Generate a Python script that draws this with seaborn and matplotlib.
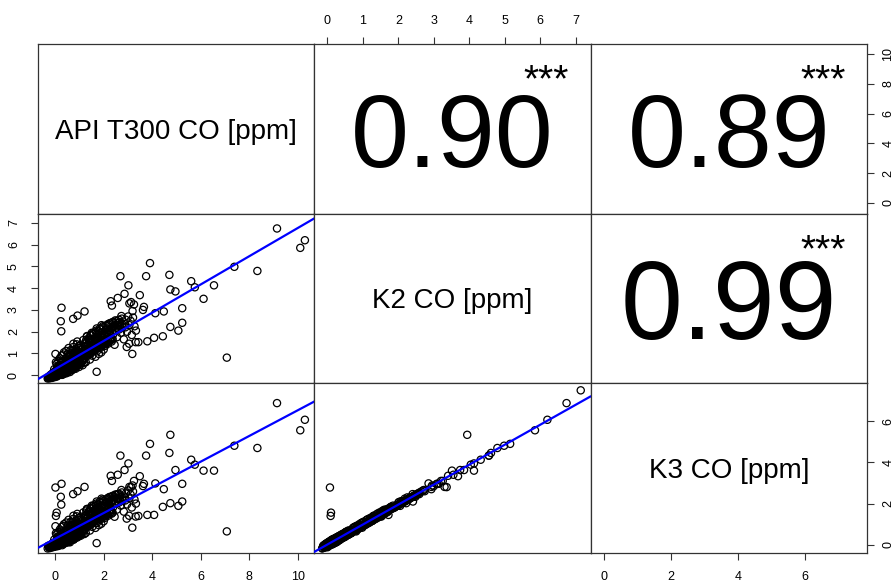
import matplotlib
matplotlib.use("Agg")
import numpy as np
import pandas as pd
import matplotlib.pyplot as plt
import seaborn as sns

# variables shown on the diagonal
var_names = ["API", "K2", "K3"]
var_labels = ["API T300 CO [ppm]", "K2 CO [ppm]", "K3 CO [ppm]"]

# correlation text for the upper panels (row, col, text, size, baseline)
corr_cells = [(0, 1, "0.90", 75, 0.277), (0, 2, "0.89", 75, 0.277), (1, 2, "0.99", 80, 0.26)]
corr_stars = "***"

# sparse / outlying observations (API, K2, K3)
api_out = [9.14, 10.10, 10.29, 7.38, 8.33, 7.07, 6.54, 6.11, 5.60, 5.75,
           5.23, 5.23, 5.07, 4.74, 4.70, 4.74, 4.95, 3.90, 3.74, 4.47,
           4.43, 4.07, 3.79, 4.12, 3.65, 3.48, 2.68, 3.01, 2.85, 2.57,
           3.17, 3.31, 3.42, 0.25, 0.22, 0.73, 0.91, 1.20, 0.24, 1.70,
           0.00, 3.24, 3.61, 2.28, 2.33, 0.00, 0.02, 0.05, np.nan, 3.05,
           3.12]
k2_out = [6.74, 5.85, 6.20, 4.98, 4.79, 0.81, 4.13, 3.51, 4.32, 4.04,
          3.08, 2.41, 2.05, 2.22, 4.61, 3.94, 3.85, 5.15, 4.55, 2.93,
          1.79, 1.72, 1.56, 2.85, 3.14, 3.68, 4.55, 4.13, 3.74, 3.55,
          0.98, 1.52, 1.52, 3.10, 2.48, 2.59, 2.74, 2.93, 2.02, 0.16,
          0.98, 3.25, 3.00, 3.40, 3.20, 0.07, 0.09, 0.10, 7.14, 3.30,
          3.36]
k3_out = [6.88, 5.56, 6.07, 4.81, 4.70, 0.65, 3.60, 3.60, 4.13, 3.89,
          2.96, 2.10, 1.89, 2.02, 4.46, 5.34, 3.63, 4.90, 4.33, 2.70,
          1.84, 1.45, 1.45, 2.98, 2.96, 3.33, 4.33, 3.95, 3.63, 3.40,
          0.83, 1.37, 1.40, 2.96, 2.33, 2.46, 2.60, 2.81, 1.95, 0.08,
          0.90, 3.10, 2.85, 3.35, 3.10, 2.78, 1.40, 1.56, 7.50, 2.81,
          2.80]

# wide low-concentration cloud (API, K2, K3)
api_low = [-0.28, -0.22, -0.19, -0.15, -0.12, -0.09, -0.06, -0.04, -0.02, 0.00,
           0.01, 0.03, 0.04, 0.06, 0.07, 0.09, 0.10, 0.11, 0.13, 0.14,
           0.16, 0.17, 0.19, 0.20, 0.21, 0.23, 0.24, 0.26, 0.27, 0.29,
           0.30, 0.31, 0.33, 0.34, 0.36, 0.37, 0.39, 0.40, 0.42, 0.43,
           0.45, 0.46, 0.48, 0.49, 0.50, 0.05, 0.12, 0.18, 0.25, 0.35,
           -0.05, 0.08, 0.15, 0.22, 0.28, 0.02, -0.10, 0.32, 0.38, 0.44,
           0.52, 0.53, 0.55, 0.56, 0.58, 0.59, 0.61, 0.62, 0.64, 0.65,
           0.67, 0.68, 0.70, 0.71, 0.73, 0.74, 0.76, 0.77, 0.79, 0.80,
           0.82, 0.83, 0.85, 0.86, 0.88, 0.89, 0.91, 0.92, 0.94, 0.95,
           0.97, 0.98, 0.99, 0.54, 0.63, 0.72, 0.81, 0.90, 0.60, 0.75,
           0.57, 0.66, 0.78, 0.87, 0.96, 0.69, 0.84, 0.93, 0.51, 0.74,
           1.01, 1.03, 1.05, 1.06, 1.08, 1.10, 1.11, 1.13, 1.15, 1.16,
           1.18, 1.20, 1.21, 1.23, 1.25, 1.26, 1.28, 1.30, 1.31, 1.33,
           1.35, 1.37, 1.38, 1.40, 1.42, 1.43, 1.45, 1.47, 1.48, 1.50,
           1.52, 1.54, 1.55, 1.57, 1.59, 1.04, 1.14, 1.24, 1.36, 1.46,
           1.61, 1.63, 1.65, 1.67, 1.69, 1.71, 1.73, 1.75, 1.77, 1.79,
           1.81, 1.83, 1.85, 1.87, 1.89, 1.91, 1.93, 1.95, 1.97, 1.99,
           2.02, 2.05, 2.08, 2.11, 2.14, 2.17, 2.20, 2.23, 2.26, 2.29,
           2.32, 2.35, 2.38, 2.41, 2.44, 2.47, 2.50, 2.54, 2.58, 2.62,
           2.66, 2.70, 2.74, 2.78, 2.82, 2.86, 2.90, 2.95, 3.00, 3.05,
           3.10, 3.15, 3.20, 3.26, 3.32, 2.72, 2.88, 3.04, 3.18, 2.94]
k2_low = [-0.06, -0.02, 0.03, -0.08, 0.05, 0.01, 0.10, -0.04, 0.07, 0.02,
          0.15, 0.04, 0.24, 0.09, 0.31, 0.00, 0.18, 0.12, 0.40, 0.06,
          0.22, 0.14, 0.48, 0.08, 0.30, 0.19, 0.58, 0.26, 0.11, 0.37,
          0.20, 0.45, 0.29, 0.66, 0.15, 0.38, 0.52, 0.24, 0.75, 0.33,
          0.44, 0.60, 0.28, 0.85, 0.50, 0.52, 0.65, 0.78, 0.90, 1.05,
          0.28, 0.42, 0.05, 0.68, 0.02, 0.60, 0.12, 0.95, 0.10, 1.12,
          0.35, 0.70, 0.48, 0.22, 0.92, 0.58, 0.40, 1.15, 0.66, 0.30,
          0.82, 0.51, 1.02, 0.62, 0.45, 1.30, 0.74, 0.55, 0.98, 0.38,
          0.68, 1.20, 0.86, 0.50, 1.42, 0.72, 0.95, 0.60, 1.10, 0.82,
          1.35, 0.66, 0.92, 1.25, 0.88, 0.95, 1.05, 1.55, 0.15, 0.28,
          0.60, 0.75, 0.85, 1.00, 0.55, 1.12, 0.40, 1.25, 0.98, 1.45,
          0.75, 1.05, 0.55, 1.40, 0.88, 0.66, 1.20, 0.95, 1.62, 0.70,
          1.10, 0.82, 1.35, 0.98, 0.60, 1.50, 1.05, 1.78, 0.88, 1.22,
          1.40, 0.95, 1.62, 1.12, 0.72, 1.30, 1.85, 1.02, 1.48, 1.20,
          0.90, 1.58, 1.10, 1.95, 1.35, 1.28, 0.92, 1.15, 1.05, 1.68,
          1.22, 1.72, 0.85, 1.45, 2.05, 1.10, 1.60, 1.32, 1.88, 0.98,
          1.50, 2.15, 1.25, 1.75, 1.05, 1.95, 1.40, 2.25, 1.62, 1.18,
          1.85, 1.35, 2.10, 1.60, 2.30, 1.45, 1.95, 2.38, 1.70, 2.15,
          1.55, 2.42, 1.88, 2.25, 1.40, 2.05, 2.48, 1.75, 2.30, 2.10,
          2.45, 1.95, 2.60, 2.20, 1.65, 2.35, 2.55, 2.00, 2.70, 2.30,
          2.50, 1.85, 2.65, 2.25, 2.05, 2.72, 2.20, 1.45, 2.95, 1.30]
k3_low = [-0.10, -0.05, 0.00, -0.11, 0.02, -0.03, 0.06, -0.08, 0.05, -0.01,
          0.12, 0.01, 0.20, 0.07, 0.28, -0.04, 0.15, 0.08, 0.36, 0.03,
          0.19, 0.10, 0.45, 0.05, 0.27, 0.15, 0.55, 0.23, 0.07, 0.34,
          0.17, 0.42, 0.26, 0.62, 0.12, 0.35, 0.49, 0.20, 0.71, 0.30,
          0.41, 0.57, 0.25, 0.82, 0.47, 0.50, 0.61, 0.74, 0.86, 1.00,
          0.25, 0.38, 0.02, 0.65, -0.02, 0.56, 0.09, 0.91, 0.07, 1.08,
          0.32, 0.67, 0.45, 0.19, 0.89, 0.55, 0.37, 1.11, 0.63, 0.27,
          0.79, 0.48, 0.98, 0.59, 0.42, 1.26, 0.71, 0.52, 0.94, 0.35,
          0.65, 1.16, 0.83, 0.47, 1.38, 0.69, 0.92, 0.57, 1.06, 0.79,
          1.31, 0.63, 0.89, 1.21, 0.85, 0.92, 1.01, 1.50, 0.12, 0.25,
          0.57, 0.72, 0.82, 0.97, 0.52, 1.08, 0.37, 1.21, 0.94, 1.41,
          0.72, 1.01, 0.52, 1.36, 0.85, 0.63, 1.16, 0.92, 1.57, 0.67,
          1.06, 0.79, 1.31, 0.95, 0.57, 1.46, 1.01, 1.73, 0.85, 1.18,
          1.36, 0.92, 1.57, 1.08, 0.69, 1.26, 1.80, 0.98, 1.44, 1.16,
          0.87, 1.54, 1.06, 1.90, 1.31, 1.24, 0.89, 1.11, 1.01, 1.64,
          1.18, 1.67, 0.82, 1.41, 2.00, 1.06, 1.56, 1.28, 1.83, 0.95,
          1.46, 2.10, 1.21, 1.70, 1.02, 1.90, 1.36, 2.19, 1.58, 1.14,
          1.80, 1.31, 2.05, 1.56, 2.24, 1.41, 1.90, 2.32, 1.66, 2.10,
          1.51, 2.36, 1.83, 2.19, 1.36, 2.00, 2.42, 1.71, 2.24, 2.05,
          2.39, 1.90, 2.54, 2.15, 1.61, 2.30, 2.49, 1.96, 2.64, 2.25,
          2.44, 1.81, 2.59, 2.20, 2.00, 2.66, 2.15, 1.41, 2.88, 1.27]

# dense core along the fit line (API, K2, K3)
api_core = [-0.30, -0.26, -0.21, -0.17, -0.14, -0.11, -0.08, -0.03, 0.00, 0.02,
            0.04, 0.06, 0.08, 0.10, 0.12, 0.14, 0.16, 0.18, 0.20, 0.22,
            0.24, 0.26, 0.28, 0.30, 0.32, 0.34, 0.36, 0.38, 0.40, 0.42,
            0.44, 0.46, 0.48, 0.50, 0.52, 0.54, 0.56, 0.58, 0.60, 0.62,
            0.64, 0.66, 0.68, 0.70, 0.72, 0.74, 0.76, 0.78, 0.80, 0.82,
            0.84, 0.86, 0.88, 0.90, 0.92, 0.94, 0.96, 0.98, 1.00, 1.02,
            1.05, 1.08, 1.11, 1.14, 1.17, 1.20, 1.23, 1.26, 1.29, 1.32,
            1.35, 1.38, 1.41, 1.44, 1.47, 1.50, 1.53, 1.56, 1.59, 1.62,
            1.65, 1.68, 1.71, 1.74, 1.77, 1.80, 1.84, 1.88, 1.92, 1.96,
            2.00, 2.04, 2.08, 2.12, 2.16, 2.20, 2.24, 2.28, 2.32, 2.36,
            0.05, 0.15, 0.25, 0.35, 0.45, 0.55, 0.65, 0.75, 0.85, 0.95,
            0.00, 0.10, 0.20, 0.30, 0.40, 0.50, 0.60, 0.70, 0.80, 0.90]
k2_core = [-0.12, -0.08, -0.10, -0.02, -0.06, 0.00, -0.04, 0.04, -0.02, 0.10,
           0.05, 0.14, 0.02, 0.20, 0.09, 0.16, 0.04, 0.25, 0.12, 0.21,
           0.08, 0.32, 0.18, 0.27, 0.12, 0.36, 0.24, 0.30, 0.16, 0.40,
           0.28, 0.35, 0.20, 0.43, 0.32, 0.46, 0.25, 0.50, 0.38, 0.44,
           0.56, 0.34, 0.52, 0.60, 0.42, 0.58, 0.48, 0.66, 0.55, 0.62,
           0.70, 0.52, 0.68, 0.75, 0.60, 0.80, 0.72, 0.66, 0.85, 0.78,
           0.82, 0.92, 0.76, 0.95, 0.88, 1.00, 0.90, 1.04, 0.96, 1.10,
           1.02, 1.08, 1.15, 0.98, 1.12, 1.20, 1.10, 1.18, 1.25, 1.14,
           1.28, 1.20, 1.30, 1.26, 1.34, 1.28, 1.38, 1.32, 1.42, 1.40,
           1.46, 1.42, 1.52, 1.48, 1.58, 1.55, 1.62, 1.60, 1.70, 1.66,
           0.00, 0.06, 0.10, 0.14, 0.18, 0.22, 0.30, 0.35, 0.42, 0.50,
           0.20, 0.28, 0.35, 0.42, 0.50, 0.58, 0.64, 0.72, 0.78, 0.88]
k3_core = [-0.05, -0.14, -0.02, -0.10, 0.03, -0.12, 0.05, -0.06, 0.08, 0.00,
           0.15, 0.02, 0.12, 0.08, 0.20, 0.05, 0.14, 0.12, 0.24, 0.10,
           0.18, 0.22, 0.28, 0.15, 0.22, 0.26, 0.34, 0.18, 0.28, 0.30,
           0.38, 0.24, 0.30, 0.35, 0.42, 0.36, 0.35, 0.40, 0.48, 0.34,
           0.46, 0.44, 0.62, 0.50, 0.52, 0.48, 0.58, 0.56, 0.65, 0.52,
           0.60, 0.62, 0.58, 0.85, 0.70, 0.70, 0.82, 0.56, 0.75, 0.88,
           0.92, 0.82, 0.86, 1.05, 0.78, 0.90, 1.00, 0.94, 1.06, 1.00,
           1.12, 0.98, 1.05, 1.08, 1.22, 1.10, 1.20, 1.08, 1.15, 1.24,
           1.18, 1.30, 1.40, 1.16, 1.24, 1.38, 1.28, 1.42, 1.32, 1.50,
           1.36, 1.52, 1.42, 1.58, 1.48, 1.65, 1.52, 1.70, 1.60, 1.56,
           0.07, -0.03, 0.18, 0.06, 0.26, 0.14, 0.38, 0.26, 0.50, 0.40,
           0.10, 0.36, 0.26, 0.50, 0.40, 0.66, 0.55, 0.80, 0.68, 0.96]

# upper arm of the cloud and the floor near zero (API, K2, K3)
api_arm = [1.22, 1.27, 1.32, 1.37, 1.42, 1.47, 1.52, 1.57, 1.62, 1.67,
           1.72, 1.77, 1.82, 1.87, 1.92, 1.97, 2.02, 2.07, 2.12, 2.17,
           2.22, 2.27, 2.32, 2.37, 2.42, 2.47, 2.52, 2.57, 2.62, 2.67,
           1.25, 1.35, 1.45, 1.55, 1.65, 1.75, 1.85, 1.95, 2.05, 2.15,
           2.25, 2.35, 2.45, 2.55, 2.65, 2.75, 1.30, 1.50, 1.70, 1.90,
           -0.32, -0.27, -0.23, -0.18, -0.13, -0.07, -0.01, 0.03, 0.07, 0.11,
           0.15, 0.19, 0.23, 0.27, 0.31, 0.35, 0.39, 0.43, 0.47, 0.51,
           0.58, 0.63, 0.69, 0.76, 0.83, 0.89, 0.97, 1.04, 1.12, 1.19]
k2_arm = [1.45, 1.62, 1.38, 1.70, 1.55, 1.82, 1.48, 1.90, 1.65, 1.98,
          1.75, 2.02, 1.68, 2.10, 1.85, 2.20, 1.92, 2.28, 2.00, 2.35,
          2.08, 2.40, 2.18, 2.45, 2.25, 2.52, 2.32, 2.40, 2.55, 2.28,
          1.20, 1.28, 1.35, 1.42, 1.50, 1.58, 1.65, 1.72, 1.80, 1.88,
          1.95, 2.02, 2.10, 2.18, 2.25, 2.35, 1.80, 1.95, 2.15, 2.30,
          -0.15, -0.12, -0.14, -0.09, -0.12, -0.06, -0.08, -0.03, -0.05, 0.00,
          0.03, 0.06, 0.02, 0.10, 0.05, 0.12, 0.08, 0.15, 0.10, 0.18,
          0.20, 0.28, 0.24, 0.34, 0.30, 0.42, 0.38, 0.50, 0.46, 0.58]
k3_arm = [1.40, 1.66, 1.30, 1.62, 1.60, 1.75, 1.52, 1.82, 1.70, 1.92,
          1.80, 1.95, 1.72, 2.02, 1.90, 2.12, 1.85, 2.20, 2.05, 2.28,
          2.12, 2.32, 2.10, 2.38, 2.30, 2.44, 2.26, 2.46, 2.48, 2.20,
          1.26, 1.20, 1.40, 1.36, 1.55, 1.50, 1.70, 1.66, 1.85, 1.80,
          1.90, 2.08, 2.04, 2.24, 2.18, 2.30, 1.74, 1.90, 2.10, 2.24,
          -0.18, -0.10, -0.16, -0.12, -0.08, -0.10, -0.04, -0.08, 0.00, -0.06,
          -0.02, 0.10, 0.06, 0.04, 0.10, 0.07, 0.14, 0.10, 0.16, 0.12,
          0.26, 0.22, 0.30, 0.28, 0.36, 0.35, 0.44, 0.44, 0.52, 0.52]

# axis ranges and tick positions
limits = {"API": (-0.72, 10.68), "K2": (-0.37, 7.42), "K3": (-0.40, 7.84)}
ticks = {"API": [0, 2, 4, 6, 8, 10], "K2": [0, 1, 2, 3, 4, 5, 6, 7], "K3": [0, 2, 4, 6]}

df = pd.DataFrame({"API": api_out + api_low + api_core + api_arm,
                   "K2": k2_out + k2_low + k2_core + k2_arm,
                   "K3": k3_out + k3_low + k3_core + k3_arm})

sns.set_style("white")
plt.rcParams["font.family"] = ["Liberation Sans", "DejaVu Sans"]
plt.rcParams["text.color"] = "black"

fig, axes = plt.subplots(3, 3, figsize=(8.94, 5.86), dpi=100)
fig.subplots_adjust(left=38 / 894, right=867 / 894, bottom=1 - 553 / 586,
                    top=1 - 44 / 586, wspace=0, hspace=0)

frame_col = "#333333"
for i in range(3):
    for j in range(3):
        ax = axes[i, j]
        xv, yv = var_names[j], var_names[i]
        ax.set_xlim(limits[xv])
        ax.set_ylim(limits[yv])
        ax.set_xticks([])
        ax.set_yticks([])
        for s in ax.spines.values():
            s.set_visible(True)
            s.set_color(frame_col)
            s.set_linewidth(0.9)

        if i == j:
            ax.text(0.5, 0.443, var_labels[i], transform=ax.transAxes,
                    ha="center", va="baseline", fontsize=20, color="black")
        elif i > j:
            sns.scatterplot(data=df, x=xv, y=yv, ax=ax, marker="o", s=27,
                            facecolor="none", edgecolor="black", linewidth=0.9,
                            legend=False, zorder=2)
            ax.set_xlim(limits[xv])
            sns.regplot(data=df, x=xv, y=yv, ax=ax, scatter=False, ci=None,
                        truncate=False, color="blue", line_kws={"lw": 1.6, "zorder": 3})
            ax.set_xlim(limits[xv])
            ax.set_ylim(limits[yv])
        ax.set_xlabel("")
        ax.set_ylabel("")

# correlation numbers and stars
for r, c, txt, size, base in corr_cells:
    ax = axes[r, c]
    ax.text(0.5, base, txt, transform=ax.transAxes, ha="center", va="baseline",
            fontsize=size, color="black")
    ax.text(0.84, 0.72, corr_stars, transform=ax.transAxes, ha="center",
            va="baseline", fontsize=28, color="black")

tick_kw = dict(length=5, width=0.8, color=frame_col, labelsize=9, labelcolor="black")

# top axis: K2
ax = axes[0, 1]
ax.set_xticks(ticks["K2"])
ax.tick_params(axis="x", top=True, bottom=False, labeltop=True, labelbottom=False,
               pad=7, **tick_kw)
# right axis: API
ax = axes[0, 2]
ax.set_yticks(ticks["API"])
ax.tick_params(axis="y", right=True, left=False, labelright=True, labelleft=False,
               pad=6, labelrotation=90, **tick_kw)
# left axis: K2
ax = axes[1, 0]
ax.set_yticks(ticks["K2"])
ax.tick_params(axis="y", left=True, labelleft=True, pad=8, labelrotation=90, **tick_kw)
# bottom axis: API
ax = axes[2, 0]
ax.set_xticks(ticks["API"])
ax.tick_params(axis="x", bottom=True, labelbottom=True, pad=8, **tick_kw)
# bottom and right axis: K3
ax = axes[2, 2]
ax.set_xticks(ticks["K3"])
ax.tick_params(axis="x", bottom=True, labelbottom=True, pad=8, **tick_kw)
ax.set_yticks(ticks["K3"])
ax.tick_params(axis="y", right=True, left=False, labelright=True, labelleft=False,
               pad=6, labelrotation=90, **tick_kw)
for lab in axes[0, 2].get_yticklabels() + axes[2, 2].get_yticklabels():
    lab.set_va("center")
for lab in axes[1, 0].get_yticklabels():
    lab.set_va("center")

fig.savefig("out.png", dpi=100)
